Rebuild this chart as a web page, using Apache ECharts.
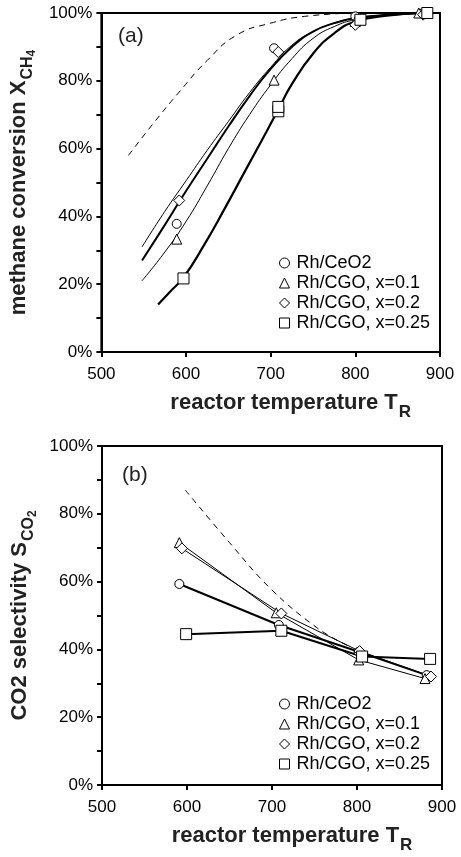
<!DOCTYPE html>
<html>
<head>
<meta charset="utf-8">
<script src="https://cdn.jsdelivr.net/npm/echarts@6/dist/echarts.min.js"></script>
<style>
html,body{margin:0;padding:0;background:#fff;}
#c{width:461px;height:857px;}
</style>
</head>
<body>
<div id="c"></div>
<script>
// ---------- data: panel (a) methane conversion (%) ----------
const names = ['Rh/CeO2', 'Rh/CGO, x=0.1', 'Rh/CGO, x=0.2', 'Rh/CGO, x=0.25'];
const a_T_ceo2 = [589, 704, 800, 880];
const a_X_ceo2 = [37.8, 89.6, 99, 100];
const a_T_x01 = [589, 704, 800, 875];
const a_X_x01 = [33.3, 80.2, 97.5, 100];
const a_T_x02 = [592, 709, 800, 880];
const a_X_x02 = [44.7, 88.5, 96.5, 99.5];
const a_T_x025 = [597, 709, 709, 806, 885];
const a_X_x025 = [21.7, 71, 72.3, 98, 100];
// fitted curves (a)
const fit1_T = [548, 575, 600, 625, 650, 675, 700, 725, 750, 775, 800, 840, 880];
const fit1_X = [31, 41.5, 50.5, 59.5, 68, 76.5, 84, 90.5, 94.5, 97, 98.5, 99.5, 100];
const fit2_T = [548, 575, 600, 625, 650, 675, 700, 725, 750, 775, 800, 840, 880];
const fit2_X = [27, 37.5, 47.5, 57, 66.5, 75.5, 83.5, 90, 94.5, 97, 98.5, 99.5, 100];
const fit3_T = [548, 575, 600, 625, 650, 675, 700, 725, 750, 775, 800, 840, 880];
const fit3_X = [21, 29.5, 38.5, 49, 60, 70, 78.8, 86.5, 92.5, 96, 98, 99.3, 100];
const fit4_T = [567, 580, 597, 620, 645, 670, 695, 710, 725, 750, 775, 800, 840, 880];
const fit4_X = [14, 17.5, 22, 31, 42, 53.5, 65, 72, 79, 88, 94, 97.5, 99.3, 100];
const eqA_T = [532, 560, 593, 625, 660, 700, 740, 800];
const eqA_X = [58, 67, 77, 86, 93.5, 97, 99, 100];

// ---------- data: panel (b) CO2 selectivity (%) ----------
const b_T_ceo2 = [591, 708, 802, 882];
const b_S_ceo2 = [59.3, 47.2, 39.3, 32.4];
const b_T_x01 = [591, 705, 802, 880];
const b_S_x01 = [71.5, 50.8, 36.9, 31.4];
const b_T_x02 = [594, 711, 803, 887];
const b_S_x02 = [69.8, 50.6, 39.5, 32];
const b_T_x025 = [599, 711, 806, 886];
const b_S_x025 = [44.5, 45.5, 37.9, 37.2];
const eqB_T = [598, 650, 700, 755, 790];
const eqB_S = [87, 71.5, 57.5, 46, 41];

const xTicks = [500, 600, 700, 800, 900];
const yTicks = [0, 20, 40, 60, 80, 100];

// ---------- helpers ----------
const FF = '"Liberation Sans", Arial, sans-serif';
const zip = (a, b) => a.map((v, i) => [v, b[i]]);
const symbols = ['circle', 'triangle', 'diamond', 'rect'];
const symSizes = [9, 10, 11, 11];

function xAxis(gi) {
  return {
    type: 'value', gridIndex: gi, min: xTicks[0], max: xTicks[xTicks.length - 1], interval: 100,
    axisLine: { show: true, onZero: false, lineStyle: { color: '#000', width: 2 } },
    axisTick: { show: true, length: 5, lineStyle: { color: '#000', width: 2 } },
    axisLabel: { fontSize: 17, color: '#000', fontFamily: FF, margin: 14 },
    splitLine: { show: false },
    name: '{m|reactor temperature T}{s|R}',
    nameLocation: 'middle', nameGap: 40,
    nameTextStyle: {
      padding: [0, 0, 0, 40],
      rich: {
        m: { fontSize: 22, fontWeight: 'bold', fontFamily: FF, color: '#222', lineHeight: 24, verticalAlign: 'top' },
        s: { fontSize: 17, fontWeight: 'bold', fontFamily: FF, color: '#222', lineHeight: 17, padding: [12, 0, 0, 1], verticalAlign: 'top' }
      }
    }
  };
}
function yAxis(gi, name) {
  return {
    type: 'value', gridIndex: gi, min: yTicks[0], max: yTicks[yTicks.length - 1], interval: 20,
    axisLine: { show: true, onZero: false, lineStyle: { color: '#000', width: 2 } },
    axisTick: { show: true, length: 5, lineStyle: { color: '#000', width: 2 } },
    minorTick: { show: true, splitNumber: 2, length: 5, lineStyle: { color: '#000', width: 2 } },
    axisLabel: { fontSize: 17, color: '#000', fontFamily: FF, margin: 9, formatter: '{value}%' },
    splitLine: { show: false },
    name: name,
    nameLocation: 'middle', nameGap: 51, nameRotate: 90,
    nameTextStyle: {
      rich: {
        m: { fontSize: 22, fontWeight: 'bold', fontFamily: FF, color: '#222', lineHeight: 25, verticalAlign: 'top' },
        s: { fontSize: 16, fontWeight: 'bold', fontFamily: FF, color: '#222', lineHeight: 16, padding: [12, 0, 0, 1], verticalAlign: 'top' },
        t: { fontSize: 12, fontWeight: 'bold', fontFamily: FF, color: '#222', lineHeight: 12, padding: [18, 0, 0, 0], verticalAlign: 'top' }
      }
    }
  };
}
function markerSeries(idx, gi, data) {
  return {
    name: names[idx], type: 'scatter', xAxisIndex: gi, yAxisIndex: gi,
    symbol: symbols[idx], symbolSize: symSizes[idx], data: data, z: 5,
    itemStyle: { color: '#fff', borderColor: '#000', borderWidth: 1, opacity: 1 },
    silent: true
  };
}
function curve(gi, data, width, dashed, smooth) {
  return {
    type: 'line', xAxisIndex: gi, yAxisIndex: gi, data: data, smooth: smooth,
    symbol: 'none', z: 2, silent: true,
    lineStyle: { color: '#000', width: width, type: dashed ? [6, 5] : 'solid' }
  };
}
function lineMarkers(idx, gi, data, width) {
  return {
    name: names[idx], type: 'line', xAxisIndex: gi, yAxisIndex: gi, data: data,
    symbol: symbols[idx], symbolSize: symSizes[idx], showSymbol: true, z: 4, silent: true,
    lineStyle: { color: '#000', width: width },
    itemStyle: { color: '#fff', borderColor: '#000', borderWidth: 1 }
  };
}
function legend(top) {
  return {
    orient: 'vertical', left: 274, top: top, itemWidth: 10, itemHeight: 10, itemGap: 2,
    selectedMode: false,
    textStyle: { fontSize: 18, fontFamily: FF, color: '#000', padding: [0, 0, 0, 2] },
    itemStyle: { color: '#fff', borderColor: '#000', borderWidth: 1 },
    data: names.map((n, i) => ({ name: n, icon: symbols[i] }))
  };
}

const chart = echarts.init(document.getElementById('c'), null, { renderer: 'canvas' });
chart.setOption({
  animation: false,
  backgroundColor: '#fff',
  grid: [
    { left: 101, top: 13, width: 339, height: 339, show: true, borderColor: '#000', borderWidth: 2, backgroundColor: 'transparent' },
    { left: 102, top: 446, width: 340, height: 339, show: true, borderColor: '#000', borderWidth: 2, backgroundColor: 'transparent' }
  ],
  xAxis: [xAxis(0), xAxis(1)],
  yAxis: [
    yAxis(0, '{m|methane conversion X}{s|CH}{t|4}'),
    yAxis(1, '{m|CO2 selectivity S}{s|CO}{t|2}')
  ],
  legend: [legend(249), legend(690)],
  graphic: [
    { type: 'text', left: 118, top: 26, style: { text: '(a)', font: '21px ' + FF, fill: '#222' } },
    { type: 'text', left: 122, top: 465, style: { text: '(b)', font: '21px ' + FF, fill: '#222' } }
  ],
  series: [
    curve(0, zip(eqA_T, eqA_X), 1, true, 0.5),
    curve(0, zip(fit1_T, fit1_X), 1, false, 0.5),
    curve(0, zip(fit2_T, fit2_X), 2, false, 0.5),
    curve(0, zip(fit3_T, fit3_X), 1, false, 0.5),
    curve(0, zip(fit4_T, fit4_X), 2.2, false, 0.5),
    markerSeries(0, 0, zip(a_T_ceo2, a_X_ceo2)),
    markerSeries(1, 0, zip(a_T_x01, a_X_x01)),
    markerSeries(2, 0, zip(a_T_x02, a_X_x02)),
    markerSeries(3, 0, zip(a_T_x025, a_X_x025)),
    curve(1, zip(eqB_T, eqB_S), 1, true, 0.4),
    lineMarkers(0, 1, zip(b_T_ceo2, b_S_ceo2), 2),
    lineMarkers(1, 1, zip(b_T_x01, b_S_x01), 1),
    lineMarkers(2, 1, zip(b_T_x02, b_S_x02), 1),
    lineMarkers(3, 1, zip(b_T_x025, b_S_x025), 2)
  ]
});
</script>
</body>
</html>
